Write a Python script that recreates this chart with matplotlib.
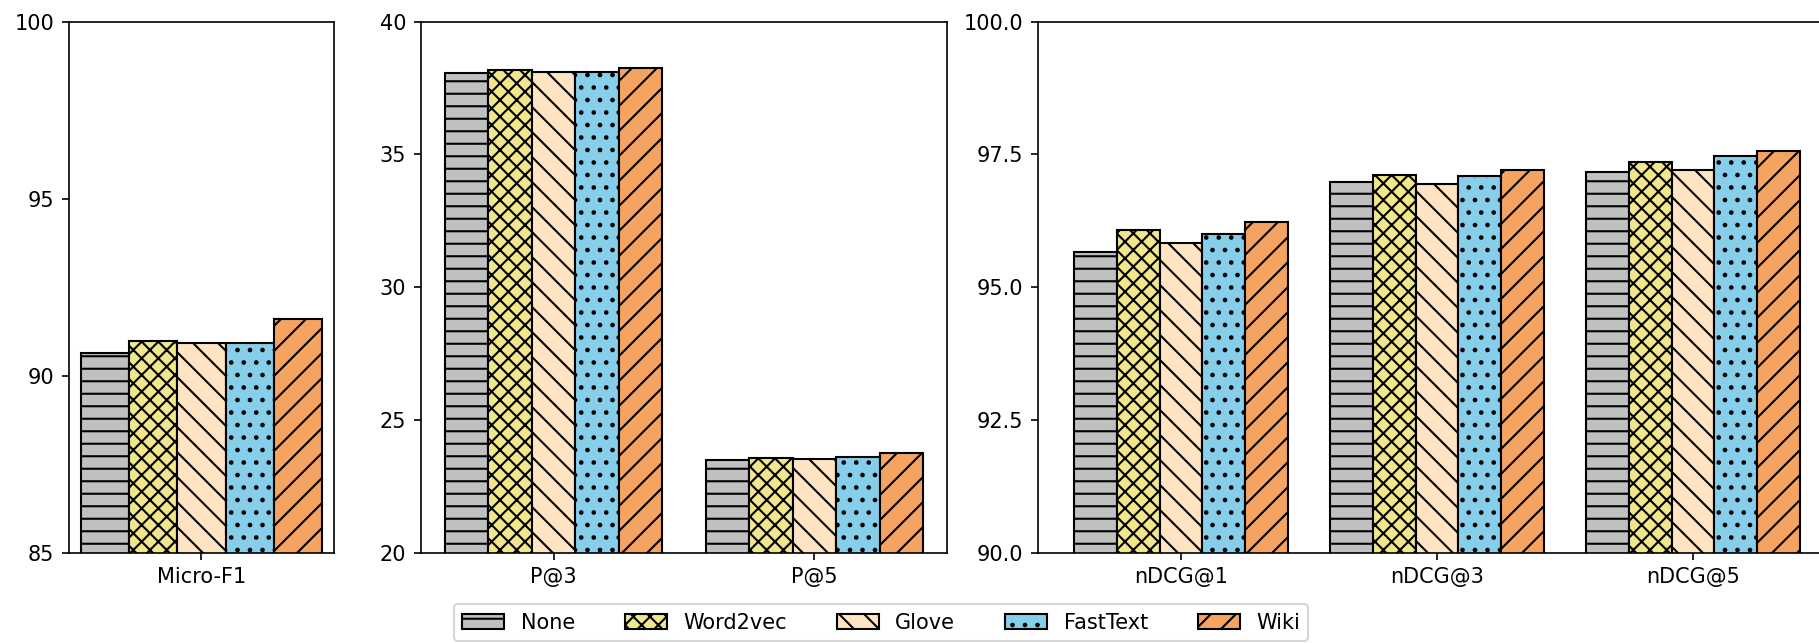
import matplotlib
matplotlib.use("Agg")
import matplotlib.pyplot as plt
import numpy as np

Methods = ["None", "Word2vec", "Glove", "FastText", "Wiki"]
Colors = ["silver", "khaki", "bisque", "skyblue", "sandybrown"]
Hatches = ["--", "xxx", "\\\\", "..", "//"]

# Micro-F1
F1Labels = ["Micro-F1"]
F1None = [90.63]
F1Word2vec = [90.99]
F1Glove = [90.92]
F1FastText = [90.92]
F1Wiki = [91.60]

# P@k
PLabels = ["P@3", "P@5"]
PNone = [38.06, 23.48]
PWord2vec = [38.18, 23.56]
PGlove = [38.09, 23.52]
PFastText = [38.12, 23.60]
PWiki = [38.26, 23.75]

# nDCG@k
NLabels = ["nDCG@1", "nDCG@3", "nDCG@5"]
NNone = [95.67, 96.98, 97.17]
NWord2vec = [96.08, 97.11, 97.35]
NGlove = [95.84, 96.95, 97.20]
NFastText = [96.00, 97.09, 97.48]
NWiki = [96.23, 97.20, 97.57]

plt.rcParams["font.size"] = 10
plt.rcParams["hatch.linewidth"] = 1.0

fig = plt.figure(figsize=(1819 / 150, 643 / 150), dpi=150)

Bottom = 0.1404
Height = 0.8258
ax1 = fig.add_axes([0.0379, Bottom, 0.1457, Height])
ax2 = fig.add_axes([0.2314, Bottom, 0.2892, Height])
ax3 = fig.add_axes([0.5706, Bottom, 0.4387, Height])

Width = 1 / 6


def draw_panel(ax, labels, series, ylim, yticks):
    x = np.arange(len(labels))
    bars = []
    for i in range(len(series)):
        offset = (i - 2) * Width
        b = ax.bar(x + offset, series[i], Width, color=Colors[i],
                   edgecolor="black", linewidth=1.0, hatch=Hatches[i],
                   label=Methods[i])
        bars.append(b)
    ax.set_xticks(x)
    ax.set_xticklabels(labels)
    ax.set_ylim(ylim)
    ax.set_yticks(yticks)
    return bars


Handles = draw_panel(ax1, F1Labels,
                     [F1None, F1Word2vec, F1Glove, F1FastText, F1Wiki],
                     (85, 100), [85, 90, 95, 100])
draw_panel(ax2, PLabels,
           [PNone, PWord2vec, PGlove, PFastText, PWiki],
           (20, 40), [20, 25, 30, 35, 40])
draw_panel(ax3, NLabels,
           [NNone, NWord2vec, NGlove, NFastText, NWiki],
           (90, 100), [90.0, 92.5, 95.0, 97.5, 100.0])

fig.legend(Handles, Methods, loc="lower center", ncol=5,
           bbox_to_anchor=(0.4845, 0.0), borderaxespad=0.1,
           columnspacing=2.4)

fig.savefig("out.png", dpi=150)
